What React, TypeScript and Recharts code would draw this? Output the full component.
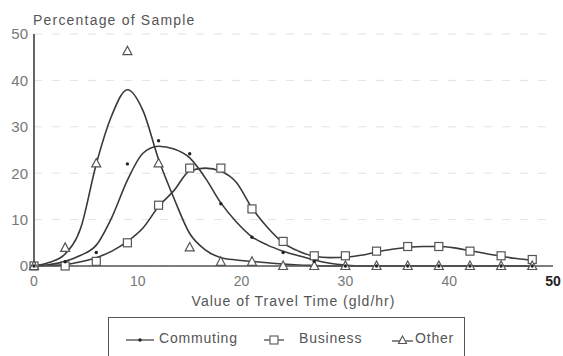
import React from 'react';
import {
  ComposedChart,
  Line,
  Scatter,
  XAxis,
  YAxis,
  CartesianGrid,
  Legend,
  Label,
} from 'recharts';

// fitted curves, every 1.5 gld/hr
const curveX = [
  0, 1.5, 3, 4.5, 6, 7.5, 9, 10.5, 12, 13.5, 15, 16.5, 18, 19.5, 21, 22.5, 24,
  25.5, 27, 28.5, 30, 31.5, 33, 34.5, 36, 37.5, 39, 40.5, 42, 43.5, 45, 46.5, 48,
];
const commutingCurve = [
  0, 0.3, 1, 2.3, 4.5, 10.5, 18.5, 24.3, 25.8, 25.2, 23.3, 19, 13.6, 9.5, 6.3,
  4.5, 3.2, 2.2, 1.3, 0.6, 0.2, 0, 0, 0, 0, 0, 0, 0, 0, 0, 0, 0, 0,
];
const businessCurve = [
  0, 0.1, 0.3, 0.9, 1.8, 3.2, 5.3, 8.2, 12.8, 16.3, 20.5, 21.1, 20.4, 18, 12.5,
  8.3, 5, 3.2, 2.1, 1.8, 1.9, 2.3, 3, 3.6, 4, 4.2, 4.2, 3.9, 3.3, 2.7, 2.1, 1.6, 1.2,
];
const otherCurve = [
  0, 0.8, 2.6, 8.2, 22, 32.5, 38, 33.5, 23, 14.5, 7, 3.5, 1.8, 1.3, 1, 0.7, 0.4,
  0.2, 0.1, 0, 0, 0, 0, 0, 0, 0, 0, 0, 0, 0, 0, 0, 0,
];

// observed sample points
const sampleX = [0, 3, 6, 9, 12, 15, 18, 21, 24, 27, 30, 33, 36, 39, 42, 45, 48];
const commutingPts = [0, 0.9, 2.9, 22, 27, 24.2, 13.4, 6.2, 2.9, 1, 0, 0, 0, 0, 0, 0, 0];
const businessPts = [0, 0, 1, 5, 13.1, 21.1, 21.1, 12.3, 5.3, 2.2, 2.2, 3.2, 4.2, 4.2, 3.2, 2.2, 1.4];
const otherPts = [0, 3.9, 22.1, 46.3, 22.1, 4, 0.9, 0.9, 0, 0, 0, 0, 0, 0, 0, 0, 0];

const xTicks = [0, 10, 20, 30, 40, 50];
const yTicks = [0, 10, 20, 30, 40, 50];

const FONT = '"Liberation Sans", Arial, sans-serif';
const INK = '#3a3a3a';

const toPts = (xs: number[], ys: number[]) => xs.map((x, i) => ({ x, y: ys[i] }));

const Square = ({ cx, cy }: any) => (
  <rect x={cx - 4} y={cy - 4} width={8} height={8} fill="#fff" stroke="#555" strokeWidth={1.2} />
);
const Triangle = ({ cx, cy }: any) => (
  <path d={`M${cx},${cy - 5} L${cx + 4.5},${cy + 3.5} L${cx - 4.5},${cy + 3.5} Z`} fill="#fff" stroke="#555" strokeWidth={1.2} />
);
const Dot = ({ cx, cy }: any) => <circle cx={cx} cy={cy} r={1.7} fill="#222" />;

const XTick = ({ x, y, payload }: any) => {
  const last = payload.value === 50;
  return (
    <text x={x} y={y} dy="0.71em" textAnchor="middle" fontFamily={FONT} fontSize={14}
      fill={last ? '#222' : '#777'} fontWeight={last ? 'bold' : 'normal'}>
      {payload.value}
    </text>
  );
};

const LegendBox = () => {
  const text = { position: 'absolute' as const, top: 12, fontFamily: FONT, fontSize: 14, letterSpacing: 0.8, color: '#555' };
  const icon = { position: 'absolute' as const, top: 15 };
  return (
    <div style={{ position: 'relative', width: 357, height: 46, border: '1px solid #555', boxSizing: 'border-box', background: '#fff' }}>
      <svg style={{ ...icon, left: 17 }} width={30} height={14}>
        <line x1={0} y1={7} x2={28} y2={7} stroke={INK} strokeWidth={1.2} />
        <circle cx={14} cy={7} r={1.7} fill="#222" />
      </svg>
      <span style={{ ...text, left: 50 }}>Commuting</span>
      <svg style={{ ...icon, left: 155 }} width={22} height={14}>
        <line x1={0} y1={7} x2={20} y2={7} stroke={INK} strokeWidth={1.2} />
        <rect x={6} y={3} width={8} height={8} fill="#fff" stroke="#555" strokeWidth={1.1} />
      </svg>
      <span style={{ ...text, left: 190 }}>Business</span>
      <svg style={{ ...icon, left: 283 }} width={22} height={14}>
        <line x1={0} y1={8} x2={21} y2={8} stroke={INK} strokeWidth={1.2} />
        <path d="M10.5,3 L14.5,10.5 L6.5,10.5 Z" fill="#fff" stroke="#555" strokeWidth={1.1} />
      </svg>
      <span style={{ ...text, left: 306 }}>Other</span>
    </div>
  );
};

export default function App() {
  return (
    <div style={{ position: 'absolute', left: 0, top: 0, width: 563, height: 356, background: '#fff', overflow: 'hidden' }}>
      <ComposedChart width={563} height={356} margin={{ top: 34, right: 10, left: 0, bottom: 60 }}>
        <CartesianGrid vertical={false} stroke="#e2e2e2" strokeDasharray="8 10" />
        <XAxis
          xAxisId={0}
          type="number"
          dataKey="x"
          domain={[0, 50]}
          ticks={xTicks}
          height={30}
          tickSize={0}
          tickMargin={10}
          tick={<XTick />}
          axisLine={{ stroke: '#555', strokeWidth: 1.6 }}
        >
          <Label value="Value of Travel Time (gld/hr)" position="bottom" offset={0}
            style={{ fontFamily: FONT, fontSize: 14, letterSpacing: 1, fill: '#555' }} />
        </XAxis>
        <XAxis xAxisId="top" orientation="top" type="number" domain={[0, 50]} height={0}
          tick={false} tickLine={false} axisLine={{ stroke: '#666', strokeWidth: 1.5 }} />
        <YAxis
          yAxisId={0}
          type="number"
          domain={[0, 50]}
          ticks={yTicks}
          width={34}
          tickSize={0}
          tickMargin={6}
          tick={{ fontFamily: FONT, fontSize: 15, fill: '#777' }}
          axisLine={{ stroke: '#555', strokeWidth: 1.8 }}
        >
          <Label content={() => (
            <text x={33} y={25} fontFamily={FONT} fontSize={14} letterSpacing={1.2} fill="#555">
              Percentage of Sample
            </text>
          )} />
        </YAxis>
        <YAxis yAxisId="right" orientation="right" type="number" domain={[0, 50]} width={0}
          tick={false} tickLine={false} axisLine={{ stroke: '#666', strokeWidth: 1.5 }} />

        <Line data={toPts(curveX, otherCurve)} dataKey="y" type="monotone" stroke={INK}
          strokeWidth={1.6} dot={false} activeDot={false} isAnimationActive={false} />
        <Line data={toPts(curveX, commutingCurve)} dataKey="y" type="monotone" stroke={INK}
          strokeWidth={1.6} dot={false} activeDot={false} isAnimationActive={false} />
        <Line data={toPts(curveX, businessCurve)} dataKey="y" type="monotone" stroke={INK}
          strokeWidth={1.6} dot={false} activeDot={false} isAnimationActive={false} />

        <Scatter data={toPts(sampleX, businessPts)} dataKey="y" shape={<Square />} isAnimationActive={false} />
        <Scatter data={toPts(sampleX, otherPts)} dataKey="y" shape={<Triangle />} isAnimationActive={false} />
        <Scatter data={toPts(sampleX, commutingPts)} dataKey="y" shape={<Dot />} isAnimationActive={false} />

        <Legend
          layout="horizontal"
          verticalAlign="middle"
          align="center"
          content={<LegendBox />}
          wrapperStyle={{ left: 108, top: 317, width: 357, height: 46 }}
        />
      </ComposedChart>
    </div>
  );
}
